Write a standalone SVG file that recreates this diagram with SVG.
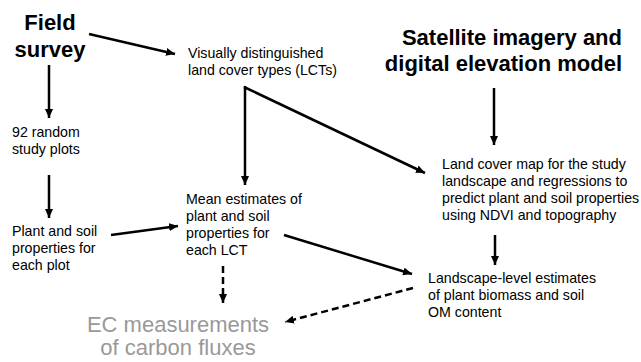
<svg xmlns="http://www.w3.org/2000/svg" width="641" height="362" viewBox="0 0 641 362">
<style>
.t{font-family:"Liberation Sans",Arial,sans-serif;font-size:14.2px;fill:#000}
.h{font-family:"Liberation Sans",Arial,sans-serif;font-size:22px;font-weight:bold;fill:#000}
.g{font-family:"Liberation Sans",Arial,sans-serif;font-size:22px;fill:#999}
.c{fill:none;stroke:#000;stroke-width:2.5}
.d{stroke-dasharray:7,4}
</style>
<defs>
<marker id="a" markerUnits="userSpaceOnUse" markerWidth="10" markerHeight="8" refX="9" refY="4" orient="auto">
<path d="M0,0 L9,4 L0,8 z" fill="#000"/>
</marker>
</defs>
<rect width="641" height="362" fill="#fff"/>
<g id="field-survey"><text class="h" x="50" y="30" text-anchor="middle">Field</text><text class="h" x="50" y="57" text-anchor="middle">survey</text></g>
<g id="visual-lct"><text class="t" x="188" y="58">Visually distinguished</text><text class="t" x="188" y="75">land cover types (LCTs)</text></g>
<g id="satellite"><text class="h" x="622" y="45" text-anchor="end">Satellite imagery and</text><text class="h" x="622" y="71" text-anchor="end">digital elevation model</text></g>
<g id="plots"><text class="t" x="12" y="137">92 random</text><text class="t" x="12" y="154">study plots</text></g>
<g id="plot-props"><text class="t" x="12" y="236">Plant and soil</text><text class="t" x="12" y="253">properties for</text><text class="t" x="12" y="270">each plot</text></g>
<g id="mean-est"><text class="t" x="186" y="204">Mean estimates of</text><text class="t" x="186" y="221">plant and soil</text><text class="t" x="186" y="238">properties for</text><text class="t" x="186" y="255">each LCT</text></g>
<g id="lc-map"><text class="t" x="442" y="169">Land cover map for the study</text><text class="t" x="442" y="186">landscape and regressions to</text><text class="t" x="442" y="203">predict plant and soil properties</text><text class="t" x="442" y="220">using NDVI and topography</text></g>
<g id="landscape-est"><text class="t" x="428" y="283">Landscape-level estimates</text><text class="t" x="428" y="300">of plant biomass and soil</text><text class="t" x="428" y="317">OM content</text></g>
<g id="ec"><text class="g" x="178" y="332" text-anchor="middle">EC measurements</text><text class="g" x="178" y="355" text-anchor="middle">of carbon fluxes</text></g>
<g id="connectors">
<line class="c" x1="89" y1="34" x2="175" y2="54" marker-end="url(#a)"/>
<line class="c" x1="49" y1="65" x2="49" y2="118" marker-end="url(#a)"/>
<line class="c" x1="49" y1="175" x2="49" y2="218" marker-end="url(#a)"/>
<line class="c" x1="111" y1="235" x2="178" y2="226" marker-end="url(#a)"/>
<line class="c" x1="245" y1="86" x2="245" y2="185" marker-end="url(#a)"/>
<line class="c" x1="244" y1="87" x2="425" y2="173" marker-end="url(#a)"/>
<line class="c" x1="494" y1="88" x2="494" y2="145" marker-end="url(#a)"/>
<line class="c" x1="495" y1="235" x2="495" y2="265" marker-end="url(#a)"/>
<line class="c" x1="284" y1="235" x2="412" y2="274" marker-end="url(#a)"/>
<line class="c d" x1="223" y1="266" x2="223" y2="303" marker-end="url(#a)"/>
<line class="c d" x1="413" y1="288" x2="285" y2="322" marker-end="url(#a)"/>
</g>
</svg>
